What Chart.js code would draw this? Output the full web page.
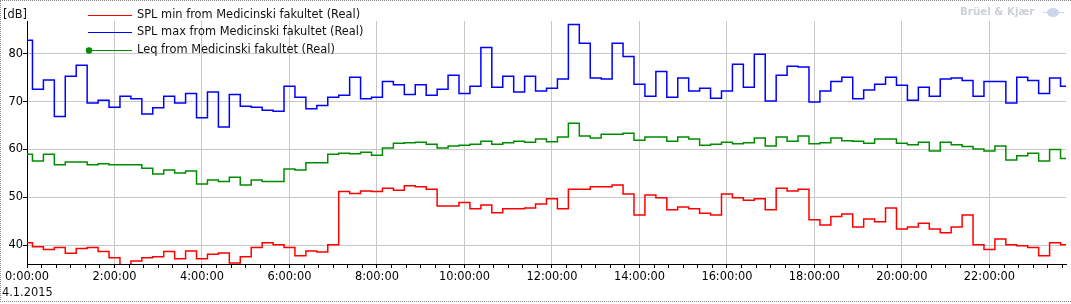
<!DOCTYPE html>
<html>
<head>
<meta charset="utf-8">
<script src="https://cdn.jsdelivr.net/npm/chart.js@4/dist/chart.umd.min.js"></script>
<style>
  html, body { margin: 0; padding: 0; background: #fff; }
  #wrap { position: relative; width: 1071px; height: 304px; }
  #frame {
    position: absolute; left: 0; top: 0; width: 1071px; height: 302px; box-sizing: border-box;
    border-left: 1px dotted #8a8a8a; border-top: 1px dotted #8a8a8a; border-bottom: 1px dotted #8a8a8a;
    pointer-events: none;
  }
</style>
</head>
<body>
<div id="wrap">
  <canvas id="splChart" width="1071" height="304"></canvas>
  <div id="frame"></div>
</div>
<script>
// minutes after midnight, 15 min logging interval, 4.1.2015
const times = [
  0, 15, 30, 45, 60, 75, 90, 105, 120, 135, 150, 165,
  180, 195, 210, 225, 240, 255, 270, 285, 300, 315, 330, 345,
  360, 375, 390, 405, 420, 435, 450, 465, 480, 495, 510, 525,
  540, 555, 570, 585, 600, 615, 630, 645, 660, 675, 690, 705,
  720, 735, 750, 765, 780, 795, 810, 825, 840, 855, 870, 885,
  900, 915, 930, 945, 960, 975, 990, 1005, 1020, 1035, 1050, 1065,
  1080, 1095, 1110, 1125, 1140, 1155, 1170, 1185, 1200, 1215, 1230, 1245,
  1260, 1275, 1290, 1305, 1320, 1335, 1350, 1365, 1380, 1395, 1410, 1425
]

const splMin = [
  40.5, 39.7, 39.1, 39.5, 38.3, 39.3, 39.5, 38.7, 37.4, 35.5,
  36.7, 37.4, 37.6, 38.7, 37.2, 38.8, 37.2, 38.1, 38.4, 36.3,
  37.6, 39.5, 40.5, 40.1, 39.5, 37.8, 38.8, 38.6, 40.1, 51.2,
  50.8, 51.3, 51.2, 51.9, 51.5, 52.4, 52.2, 51.7, 48.2, 48.2,
  48.9, 47.6, 48.4, 46.8, 47.6, 47.6, 47.8, 48.6, 49.7, 47.6,
  51.7, 51.7, 52.2, 52.2, 52.6, 50.7, 46.3, 50.5, 49.9, 47.4,
  48.0, 47.6, 46.7, 46.3, 50.7, 49.9, 49.4, 49.7, 47.4, 51.9,
  51.3, 51.7, 45.3, 44.2, 46.0, 46.5, 43.8, 45.5, 44.9, 47.8,
  43.4, 43.8, 44.6, 43.4, 42.6, 43.8, 46.3, 40.1, 39.1, 41.3,
  40.1, 39.9, 39.5, 37.8, 40.5, 40.1
]

const splMax = [
  82.8, 72.6, 74.5, 66.9, 75.3, 77.6, 69.7, 70.3, 68.8, 71.1,
  70.6, 67.4, 68.7, 71.1, 69.7, 71.7, 66.6, 72.0, 64.7, 71.5,
  69.0, 68.8, 68.2, 68.0, 73.2, 70.9, 68.5, 69.2, 70.9, 71.3,
  75.1, 70.6, 70.9, 74.2, 73.5, 71.5, 73.5, 71.3, 72.6, 75.5,
  71.7, 73.2, 81.3, 73.0, 75.3, 72.0, 75.3, 72.2, 72.8, 74.7,
  86.1, 82.2, 74.9, 74.7, 82.2, 79.4, 73.6, 71.1, 76.3, 70.9,
  74.9, 72.2, 72.8, 70.7, 72.2, 77.8, 73.0, 79.9, 70.1, 75.5,
  77.4, 77.2, 69.9, 72.2, 74.2, 75.1, 70.6, 72.4, 73.6, 75.1,
  73.4, 70.3, 73.0, 71.1, 74.7, 74.9, 74.4, 71.1, 74.2, 74.2,
  69.7, 75.1, 74.4, 71.7, 74.9, 73.2
]

const leq = [
  59.0, 57.6, 59.0, 56.8, 57.4, 57.4, 56.8, 57.0, 56.8, 56.8,
  56.8, 56.1, 54.9, 55.7, 55.1, 55.5, 52.8, 53.6, 53.3, 54.2,
  52.6, 53.6, 53.3, 53.3, 55.9, 55.7, 57.2, 57.2, 59.0, 59.2,
  59.1, 59.4, 58.8, 60.3, 61.3, 61.4, 61.5, 61.1, 60.3, 60.7,
  60.9, 61.1, 61.7, 61.1, 61.4, 61.7, 61.5, 62.2, 61.6, 62.6,
  65.5, 62.8, 62.4, 63.2, 63.2, 63.4, 61.9, 62.6, 62.6, 61.7,
  62.6, 62.2, 60.9, 61.1, 61.5, 61.2, 61.4, 62.4, 60.7, 62.6,
  61.7, 62.8, 61.2, 61.4, 62.4, 61.8, 61.7, 61.3, 62.2, 62.2,
  61.3, 61.0, 61.5, 59.7, 61.5, 61.0, 60.6, 60.1, 59.7, 60.7,
  57.8, 58.7, 59.2, 57.6, 60.0, 58.1
]

const xTickLabels = [
  "0:00:00", "2:00:00", "4:00:00", "6:00:00", "8:00:00", "10:00:00",
  "12:00:00", "14:00:00", "16:00:00", "18:00:00", "20:00:00", "22:00:00"
]
const yTicks = [40, 50, 60, 70, 80]
const unitLabel = "[dB]"
const dateLabel = "4.1.2015"
const brandLabel = "Brüel & Kjær"

const FONT = "DejaVu Sans"
const FONT_SIZE = 11.4
const GRID = "#c8c8c8"

function toPoints(values) {
  return values.map((v, i) => ({ x: times[i], y: v }))
}

function series(label, values, color, marker) {
  return {
    label,
    data: toPoints(values),
    borderColor: color,
    backgroundColor: color,
    borderWidth: 1.5,
    stepped: "middle",
    pointRadius: 0,
    fill: false,
    marker: marker || false
  }
}

// legend sits on top of the plot, plus the odd bits of text around the frame
const overlay = {
  id: "overlay",
  afterDraw(chart) {
    const ctx = chart.ctx
    ctx.save()
    ctx.font = FONT_SIZE + "px '" + FONT + "'"
    ctx.fillStyle = "#111"
    ctx.textBaseline = "middle"
    ctx.textAlign = "left"
    ctx.fillText(unitLabel, 3, 15)
    ctx.fillText(dateLabel, 2, 293)

    chart.data.datasets.forEach((ds, row) => {
      const y = Math.round(15 + row * 17.3) + 0.5
      ctx.strokeStyle = ds.borderColor
      ctx.lineWidth = 1
      ctx.beginPath()
      ctx.moveTo(88, y)
      ctx.lineTo(132, y)
      ctx.stroke()
      if (ds.marker) {
        ctx.fillStyle = ds.borderColor
        ctx.beginPath()
        ctx.arc(89, y, 3.2, 0, Math.PI * 2)
        ctx.fill()
      }
      ctx.fillStyle = "#111"
      ctx.fillText(ds.label, 137, y)
    })

    ctx.font = "bold 10.3px '" + FONT + "'"
    ctx.fillStyle = "#cdd0d6"
    ctx.fillText(brandLabel, 960, 12.5)
    ctx.fillStyle = "#cbd6ea"
    ctx.beginPath()
    ctx.ellipse(1053, 12.5, 6, 4.5, 0, 0, Math.PI * 2)
    ctx.fill()
    ctx.strokeStyle = "#cbd6ea"
    ctx.beginPath()
    ctx.moveTo(1043, 12.5)
    ctx.lineTo(1064, 12.5)
    ctx.stroke()
    ctx.restore()
  }
}

const canvas = document.getElementById("splChart")
new Chart(canvas, {
  type: "line",
  data: {
    datasets: [
      series("SPL min from Medicinski fakultet (Real)", splMin, "#ff0000"),
      series("SPL max from Medicinski fakultet (Real)", splMax, "#0000ff"),
      series("Leq from Medicinski fakultet (Real)", leq, "#008c00", true)
    ]
  },
  options: {
    responsive: false,
    animation: false,
    events: [],
    layout: { padding: { top: 21, right: 5, left: 0, bottom: 0 } },
    plugins: { legend: { display: false }, tooltip: { enabled: false } },
    scales: {
      x: {
        type: "linear",
        min: times[0],
        max: times[times.length - 1],
        afterBuildTicks: (s) => {
          const t = []
          for (let m = 0; m <= s.max; m += 20) t.push({ value: m })
          s.ticks = t
        },
        afterFit: (s) => { s.height = 40 },
        ticks: {
          autoSkip: false,
          maxRotation: 0,
          minRotation: 0,
          padding: 2,
          color: "#000",
          font: { family: FONT, size: FONT_SIZE },
          callback: (v) => (v % 120 === 0 ? xTickLabels[v / 120] : "")
        },
        grid: {
          color: (c) => (c.tick && c.tick.value % 120 === 0 && c.tick.value > 0 ? GRID : "rgba(0,0,0,0)"),
          tickColor: "#000",
          tickLength: 4,
          lineWidth: 1
        },
        border: { color: "#000", width: 1 }
      },
      y: {
        type: "linear",
        min: 36.08,
        max: 86.83,
        afterBuildTicks: (s) => { s.ticks = yTicks.map((v) => ({ value: v })) },
        afterFit: (s) => { s.width = 27 },
        ticks: { padding: 0, color: "#000", font: { family: FONT, size: FONT_SIZE } },
        grid: { color: GRID, tickColor: "#000", tickLength: 4, lineWidth: 1 },
        border: { color: "#000", width: 1 }
      }
    }
  },
  plugins: [overlay]
})
</script>
</body>
</html>
